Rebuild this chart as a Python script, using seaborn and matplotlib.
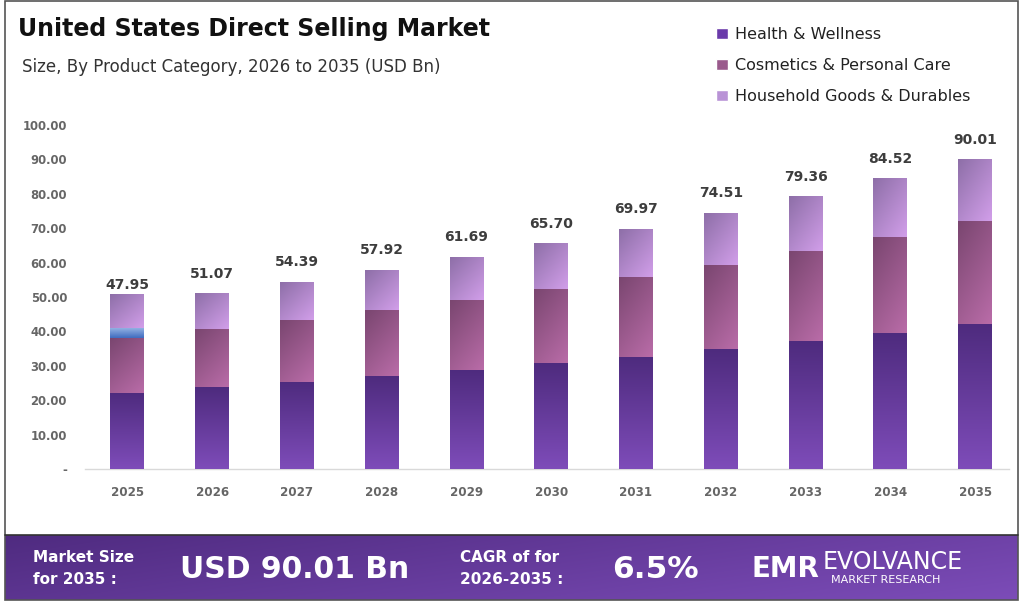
import numpy as np
import matplotlib
matplotlib.use("Agg")
import matplotlib.pyplot as plt
from matplotlib.colors import to_rgb
from matplotlib.patches import Patch, Rectangle
import seaborn as sns

years = ["2025", "2026", "2027", "2028", "2029", "2030", "2031", "2032", "2033", "2034", "2035"]
health = [22.2, 23.7, 25.4, 27.0, 28.8, 30.7, 32.6, 34.8, 37.1, 39.6, 42.2]
cosmetics = [15.8, 16.9, 17.9, 19.1, 20.3, 21.6, 23.3, 24.5, 26.4, 27.8, 29.8]
other = [3.1, 0, 0, 0, 0, 0, 0, 0, 0, 0, 0]   # stray blue strip in the 2025 bar
household = [9.7, 10.3, 10.9, 11.6, 12.4, 13.2, 13.9, 15.1, 15.7, 17.0, 17.8]
totals = [47.95, 51.07, 54.39, 57.92, 61.69, 65.70, 69.97, 74.51, 79.36, 84.52, 90.01]
legend_names = ["Health & Wellness", "Cosmetics & Personal Care", "Household Goods & Durables"]

sns.set_style("white")
plt.rcParams["font.family"] = ["DejaVu Sans"]

W, H = 1024, 605
fig = plt.figure(figsize=(W / 100, H / 100), dpi=100)
fx = lambda px: px / W
fy = lambda py: 1 - py / H

ax = fig.add_axes([fx(85), fy(469), fx(1009) - fx(85), fy(125) - fy(469)])

def gradient(c1, c2, diag, ny=80, nx=20):
    c1, c2 = np.array(to_rgb(c1)), np.array(to_rgb(c2))
    yy = np.linspace(0, 1, ny)[:, None]
    xx = np.linspace(0, 1, nx)[None, :]
    t = yy * (1 - diag) + xx * diag
    return c1 + (c2 - c1) * t[..., None]

# stacked layers: (segment values, flat colour, gradient top-left, gradient bottom-right, diagonal share)
layers = [
    (health, "#6a3aaa", "#4e2b7e", "#7e4cb9", 0.0),
    (cosmetics, "#9a5a8c", "#7a4670", "#b96ca8", 0.35),
    (other, "#4a78c8", "#9ab8e6", "#3f6cc0", 0.0),
    (household, "#b993d6", "#8e6fa8", "#d19ee9", 0.45),
]
cum = np.cumsum([np.array(l[0]) for l in layers], axis=0)
lowers = np.vstack([np.zeros(len(years)), cum[:-1]])

# draw the tallest cumulative bars first so each shorter layer sits on top
drawn = {}
for k in range(len(layers) - 1, -1, -1):
    before = len(ax.patches)
    sns.barplot(x=years, y=cum[k], color=layers[k][1], width=0.4, ax=ax,
                saturation=1, linewidth=0)
    drawn[k] = ax.patches[before:]

for k, (vals, flat, ca, cb, diag) in enumerate(layers):
    img = gradient(ca, cb, diag)
    for i, p in enumerate(drawn[k]):
        lo, hi = lowers[k][i], cum[k][i]
        if hi - lo < 0.01:
            continue
        x0, w = p.get_x(), p.get_width()
        ax.imshow(img, extent=(x0, x0 + w, lo, hi), aspect="auto",
                  interpolation="bilinear", zorder=3)

for i, t in enumerate(totals):
    ax.annotate(f"{t:.2f}", xy=(i, t), xytext=(0, 14), textcoords="offset points",
                ha="center", va="center", fontsize=10, fontweight="bold", color="#3d3d3d")

ax.set_xlim(-0.5, 10.4)
ax.set_ylim(0, 100)
ax.set_yticks(range(0, 101, 10))
ax.set_yticklabels(["-"] + [f"{v:.2f}" for v in range(10, 101, 10)])
ax.tick_params(axis="y", length=0, pad=13, labelsize=8.4, labelcolor="#666666")
ax.tick_params(axis="x", length=0, pad=12, labelsize=8.6, labelcolor="#666666")
for lab in ax.get_xticklabels() + ax.get_yticklabels():
    lab.set_fontweight("bold")
ax.set_xlabel("")
ax.set_ylabel("")
for s in ["top", "right", "left"]:
    ax.spines[s].set_visible(False)
ax.spines["bottom"].set_color("#d9d9d9")
ax.spines["bottom"].set_linewidth(1)

# titles
fig.text(fx(18), fy(29), "United States Direct Selling Market", fontsize=17,
         fontweight="heavy", color="#111111", va="center", ha="left")
fig.text(fx(22), fy(67), "Size, By Product Category, 2026 to 2035 (USD Bn)", fontsize=12,
         color="#333333", va="center", ha="left")

# legend
handles = [Patch(facecolor=c) for c in ["#6a3aaa", "#9a5a8c", "#b993d6"]]
fig.legend(handles, legend_names, loc="upper left", bbox_to_anchor=(fx(716), fy(27)),
           frameon=False, fontsize=11.5, handlelength=0.75, handleheight=0.75,
           handletextpad=0.45, labelspacing=1.0, borderaxespad=0, borderpad=0,
           labelcolor="#222222")

# bottom banner
bax = fig.add_axes([fx(5), fy(600), fx(1018) - fx(5), fy(535) - fy(600)])
bax.imshow(gradient("#4f2b80", "#7c4cb8", 0.7, ny=40, nx=200), extent=(0, 1, 0, 1),
           aspect="auto", interpolation="bilinear")
bax.set_xlim(0, 1)
bax.set_ylim(0, 1)
bax.axis("off")
fig.add_artist(plt.Line2D([fx(5), fx(1018)], [fy(535), fy(535)], color="#333333", lw=1.2))

wt = dict(color="white", va="center", ha="left")
fig.text(fx(33), fy(557), "Market Size", fontsize=11, fontweight="bold", **wt)
fig.text(fx(33), fy(580), "for 2035 :", fontsize=11, fontweight="bold", **wt)
fig.text(fx(180), fy(569), "USD 90.01 Bn", fontsize=21.5, fontweight="bold", **wt)
fig.text(fx(460), fy(557), "CAGR of for", fontsize=11, fontweight="bold", **wt)
fig.text(fx(460), fy(580), "2026-2035 :", fontsize=11, fontweight="bold", **wt)
fig.text(fx(612), fy(569), "6.5%", fontsize=22.5, fontweight="bold", **wt)
fig.text(fx(752), fy(569), "EMR", fontsize=20, fontweight="bold", **wt)
fig.text(fx(823), fy(562), "EVOLVANCE", fontsize=17, **wt)
fig.text(fx(831), fy(580), "MARKET RESEARCH", fontsize=8, **wt)

# outer frame
fig.add_artist(Rectangle((fx(4.5), fy(600)), fx(1018) - fx(4.5), fy(0.5) - fy(600),
                         transform=fig.transFigure, fill=False, ec="#555555", lw=1.2))

fig.savefig("out.png", dpi=100)
